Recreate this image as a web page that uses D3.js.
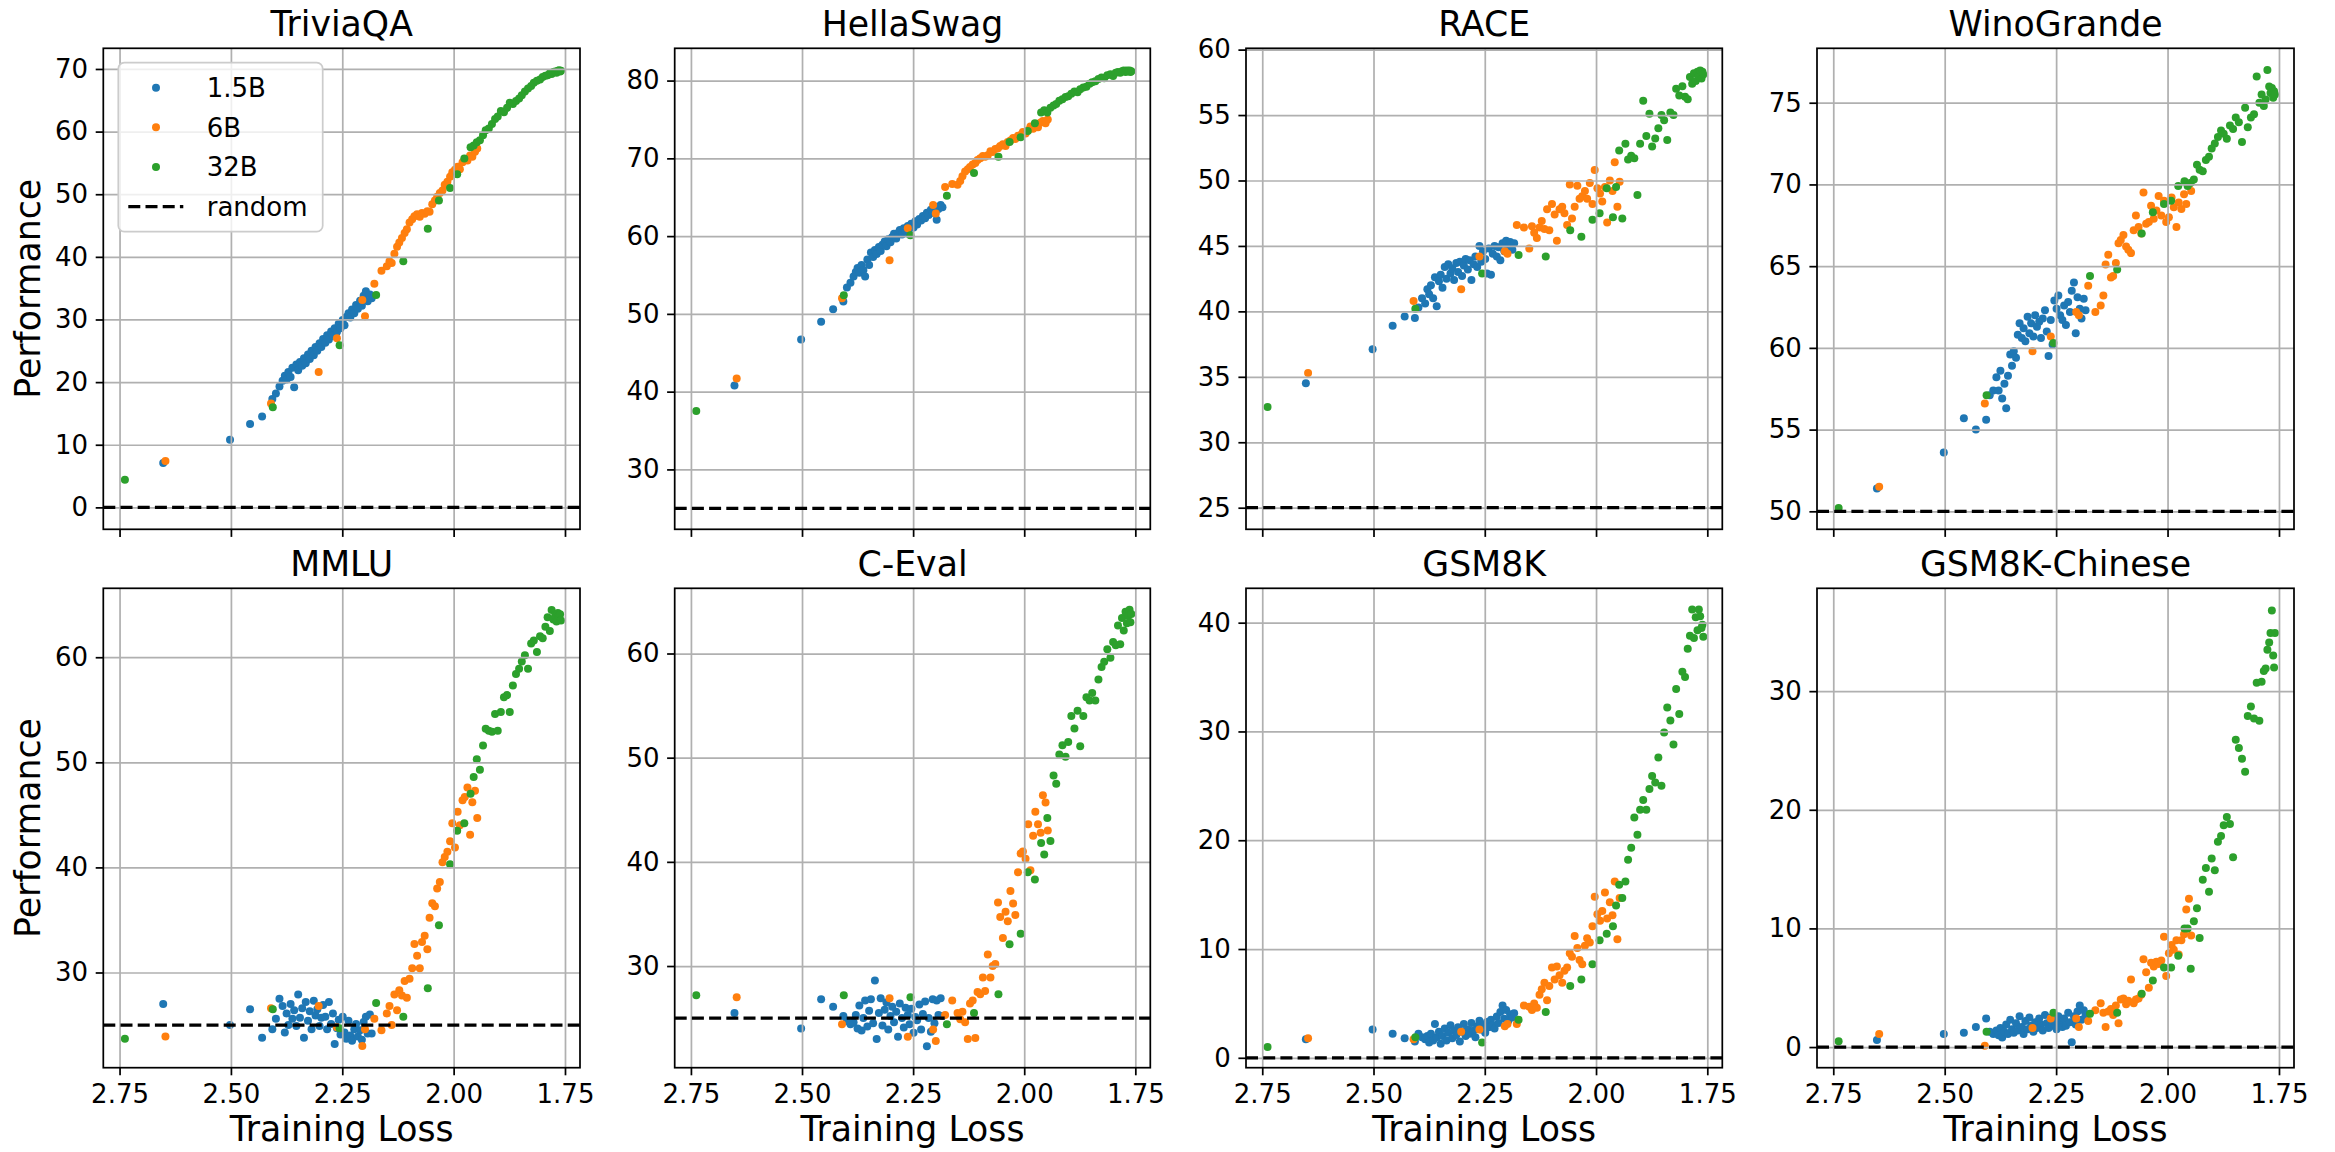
<!DOCTYPE html>
<html>
<head>
<meta charset="utf-8">
<script src="https://cdn.jsdelivr.net/npm/d3@7"></script>
<style>
  body { margin: 0; background: #fff; }
  svg { display: block; }
</style>
</head>
<body>
<svg id="chart"></svg>
<script>
// ---- data ----
const models = ["1.5B", "6B", "32B"];
const benchmarks = ["TriviaQA", "HellaSwag", "RACE", "WinoGrande", "MMLU", "C-Eval", "GSM8K", "GSM8K-Chinese"];
const randomLevels = [0, 25, 25, 50, 25, 25, 0, 0];
const xTicks = [2.75, 2.50, 2.25, 2.00, 1.75];
const yTicks = [
    [0, 10, 20, 30, 40, 50, 60, 70],
    [30, 40, 50, 60, 70, 80],
    [25, 30, 35, 40, 45, 50, 55, 60],
    [50, 55, 60, 65, 70, 75],
    [30, 40, 50, 60],
    [30, 40, 50, 60],
    [0, 10, 20, 30, 40],
    [0, 10, 20, 30]
];
// axis limits
const xDomain = [2.7865, 1.7163];
const yDomains = [[-3.5, 73.3], [22.3, 84.15], [23.35, 60.1], [48.9, 78.33],
                  [20.94, 66.56], [20.24, 66.26], [-0.91, 43.16], [-1.74, 38.67]];

// training loss of each checkpoint (shared by all benchmarks)
const loss15 = [2.652, 2.502, 2.457, 2.430, 2.407, 2.399, 2.391,
    2.384, 2.379, 2.375, 2.371, 2.366, 2.362, 2.358, 2.353, 2.349, 2.345,
    2.340, 2.336, 2.332, 2.327, 2.323, 2.319, 2.314, 2.310, 2.306, 2.301,
    2.297, 2.293, 2.288, 2.284, 2.280, 2.275, 2.271, 2.267, 2.262, 2.258,
    2.254, 2.249, 2.245, 2.241, 2.236, 2.232, 2.228, 2.223, 2.219, 2.215,
    2.210, 2.206, 2.202, 2.197, 2.193, 2.188, 2.184];
const loss6 = [2.647, 2.410, 2.303, 2.262, 2.205, 2.199, 2.178, 2.162,
    2.150, 2.144, 2.139, 2.133, 2.127, 2.122, 2.116, 2.110, 2.105, 2.099,
    2.093, 2.088, 2.082, 2.076, 2.071, 2.065, 2.059, 2.054, 2.048, 2.042,
    2.037, 2.031, 2.025, 2.020, 2.014, 2.008, 2.003, 1.997, 1.991, 1.986,
    1.980, 1.975, 1.969, 1.963, 1.958, 1.952, 1.947];
const loss32 = [2.738, 2.406, 2.256, 2.174, 2.113, 2.058, 2.033, 2.008, 1.992, 1.976,
    1.962, 1.955, 1.948, 1.941, 1.934, 1.928, 1.921, 1.914, 1.907, 1.901,
    1.894, 1.887, 1.880, 1.874, 1.867, 1.860, 1.853, 1.847, 1.840, 1.833,
    1.826, 1.820, 1.813, 1.806, 1.800, 1.794, 1.789, 1.784, 1.780, 1.776,
    1.772, 1.769, 1.766, 1.763, 1.761, 1.759];

// TriviaQA
const triviaqa15 = [7.1, 10.8, 13.3, 14.5, 17.3, 18.2, 19.3,
    20.2, 21.0, 20.4, 21.6, 20.8, 22.3, 19.2, 22.8, 21.9, 23.2,
    22.6, 23.8, 23.0, 24.4, 23.7, 25.0, 24.3, 25.6, 25.0, 26.2,
    25.6, 26.9, 26.3, 27.5, 26.8, 28.1, 27.4, 28.6, 28.0, 29.3,
    28.6, 29.9, 29.1, 30.4, 31.0, 30.3, 31.6, 31.0, 32.3, 31.7,
    33.0, 32.2, 33.8, 34.5, 32.9, 34.0, 33.4];
const triviaqa6 = [7.4, 16.6, 21.6, 27.0, 33.1, 30.5, 35.7, 37.8,
    38.5, 39.3, 39.0, 40.5, 41.6, 42.3, 43.0, 43.8, 44.4, 45.5,
    46.0, 46.5, 46.8, 46.4, 47.0, 46.9, 47.3, 47.2, 48.4, 49.0,
    49.6, 50.2, 50.6, 51.5, 52.0, 52.8, 53.5, 53.9, 54.4, 54.0,
    55.1, 55.6, 55.4, 56.2, 56.0, 56.8, 57.3];
const triviaqa32 = [4.4, 16.0, 25.9, 33.9, 39.3, 44.5, 49.0, 51.0, 53.2, 55.7,
    57.5, 57.8, 58.3, 58.6, 59.4, 60.2, 60.5, 61.2, 62.0, 62.4,
    63.3, 63.1, 63.8, 64.6, 64.4, 64.9, 65.3, 65.8, 66.4, 66.9,
    67.3, 67.8, 68.1, 68.3, 68.7, 68.9, 69.0, 69.3, 69.2, 69.5,
    69.6, 69.4, 69.7, 69.8, 69.6, 69.7];

// HellaSwag
const hellaswag15 = [40.8, 46.7, 49.0, 50.6, 51.6, 53.4, 54.0,
    54.8, 55.4, 55.9, 55.3, 56.3, 55.6, 54.8, 57.0, 56.3, 57.9,
    57.3, 58.2, 57.7, 58.6, 58.1, 58.9, 59.3, 58.7, 59.6, 59.2,
    59.9, 60.3, 59.7, 60.4, 60.8, 60.2, 61.0, 60.6, 61.3, 60.2,
    61.6, 61.1, 61.9, 61.5, 62.2, 62.0, 62.6, 62.3, 63.0, 62.7,
    63.4, 63.0, 63.8, 62.1, 63.5, 64.0, 63.7];
const hellaswag6 = [41.7, 52.0, 56.9, 61.0, 64.0, 62.9, 66.3, 66.7,
    66.6, 67.1, 67.7, 68.3, 68.6, 68.9, 69.2, 69.4, 69.8, 70.0,
    70.3, 70.2, 70.4, 70.9, 70.8, 71.2, 71.3, 71.6, 71.8, 71.6,
    72.1, 72.3, 72.6, 72.5, 72.9, 73.0, 73.4, 73.2, 73.6, 74.1,
    73.8, 74.4, 74.0, 74.6, 74.8, 74.5, 75.0];
const hellaswag32 = [37.5, 52.4, 60.1, 65.2, 68.1, 70.2, 72.1, 72.7, 73.5, 74.5,
    75.9, 76.2, 75.9, 76.5, 76.8, 77.0, 77.4, 77.6, 77.9, 78.0,
    78.3, 78.6, 78.5, 78.9, 79.1, 79.2, 79.6, 79.8, 79.9, 80.2,
    80.4, 80.3, 80.7, 80.8, 80.6, 81.0, 81.1, 81.0, 81.2, 81.3,
    81.1, 81.3, 81.2, 81.3, 81.1, 81.2];

// RACE
const race15 = [34.5, 37.1, 38.9, 39.6, 39.5, 40.3, 41.0,
    40.6, 41.7, 41.3, 42.0, 41.0, 42.6, 40.4, 42.3, 42.8, 41.8,
    43.4, 42.5, 43.6, 42.9, 43.3, 42.4, 43.7, 43.0, 43.8, 42.7,
    43.5, 44.0, 43.2, 43.9, 42.4, 43.6, 44.2, 43.4, 45.0, 43.8,
    44.6, 44.0, 42.9, 44.8, 42.8, 44.4, 45.0, 44.2, 44.9, 43.9,
    45.2, 44.6, 45.4, 44.9, 45.3, 44.7, 45.2];
const race6 = [35.3, 40.8, 41.7, 44.2, 44.6, 44.4, 46.6, 46.4,
    44.8, 46.5, 46.0, 45.6, 46.4, 46.9, 46.3, 47.8, 46.2, 48.2,
    47.4, 45.4, 47.8, 48.0, 47.5, 46.6, 49.7, 47.1, 48.0, 49.6,
    48.6, 48.8, 49.2, 48.6, 49.8, 48.2, 50.8, 49.4, 49.0, 48.4,
    49.5, 46.8, 50.0, 49.2, 51.4, 48.0, 49.9];
const race32 = [32.7, 40.2, 42.9, 44.3, 44.2, 46.2, 45.7, 47.0, 47.5, 49.4,
    47.2, 49.5, 52.3, 47.1, 52.8, 51.6, 51.9, 51.7, 48.9, 52.8,
    56.1, 53.4, 55.1, 52.6, 53.2, 54.0, 55.0, 54.6, 53.1, 55.2,
    55.0, 57.0, 56.5, 57.2, 56.4, 56.2, 57.9, 57.4, 58.2, 57.6,
    58.3, 58.0, 58.4, 57.8, 58.3, 58.1];

// WinoGrande
const winogrande15 = [51.4, 53.6, 55.7, 55.0, 55.6, 57.1, 57.4,
    58.2, 57.4, 58.6, 56.9, 57.8, 56.3, 58.3, 59.6, 58.9, 59.8,
    59.4, 60.8, 61.5, 60.6, 61.2, 60.4, 61.9, 60.9, 61.5, 60.7,
    62.0, 61.3, 61.6, 60.6, 61.8, 62.3, 61.0, 59.5, 61.7, 60.2,
    62.9, 62.4, 63.2, 62.0, 61.7, 62.6, 61.4, 62.8, 62.2, 63.5,
    64.0, 60.9, 63.1, 62.4, 61.8, 63.0, 62.3];
const winogrande6 = [51.5, 56.6, 59.8, 60.7, 62.2, 62.0, 63.8, 62.2,
    62.6, 63.2, 65.1, 65.7, 64.3, 64.4, 65.2, 66.4, 66.6, 66.9,
    66.2, 66.0, 65.8, 67.2, 68.1, 67.4, 67.0, 69.5, 67.6, 67.7,
    68.7, 67.9, 68.4, 69.3, 68.1, 69.0, 67.7, 68.0, 69.2, 68.6,
    67.4, 68.9, 68.5, 69.4, 68.8, 70.0, 69.6];
const winogrande32 = [50.2, 57.1, 60.3, 64.4, 64.8, 67.0, 68.3, 68.8, 69.0, 69.9,
    70.2, 69.9, 70.1, 70.3, 71.2, 70.9, 70.8, 71.5, 71.7, 72.2,
    72.5, 72.9, 73.3, 73.1, 72.8, 73.6, 73.4, 74.1, 73.8, 72.6,
    74.7, 73.5, 74.1, 74.3, 76.6, 75.0, 75.5, 74.8, 75.2, 77.0,
    76.0, 75.6, 75.9, 75.3, 75.7, 75.5];

// MMLU
const mmlu15 = [27.0, 25.0, 26.5, 23.8, 24.6, 25.6, 27.5,
    26.8, 24.3, 26.1, 25.0, 27.0, 25.6, 26.4, 24.9, 27.9, 25.7,
    26.6, 23.8, 27.2, 25.4, 26.3, 24.6, 27.3, 25.9, 26.5, 24.9,
    25.7, 26.9, 25.8, 24.6, 27.2, 25.1, 26.1, 23.2, 24.7, 25.5,
    24.1, 25.8, 24.3, 23.7, 25.4, 24.0, 23.5, 24.6, 25.1, 23.9,
    24.5, 23.6, 25.3, 25.8, 24.2, 26.0, 24.2];
const mmlu6 = [23.9, 26.6, 26.8, 24.8, 23.0, 24.6, 25.6, 24.5,
    26.1, 26.8, 25.0, 27.9, 26.4, 28.3, 27.8, 29.2, 27.6, 29.4,
    30.4, 32.7, 31.6, 30.4, 32.9, 33.5, 32.2, 35.2, 36.6, 36.3,
    38.0, 38.6, 40.5, 41.0, 41.5, 42.5, 44.2, 41.9, 45.3, 44.0,
    46.4, 46.7, 47.6, 43.1, 46.2, 47.3, 44.7];
const mmlu32 = [23.7, 26.5, 24.7, 27.1, 25.8, 28.5, 34.5, 40.3, 43.5, 44.2,
    47.0, 48.6, 50.3, 49.3, 51.6, 53.2, 53.0, 52.9, 54.6, 53.0,
    54.8, 56.2, 56.4, 54.8, 57.3, 58.4, 58.9, 59.6, 60.2, 58.9,
    61.3, 61.6, 60.5, 62.0, 61.8, 62.9, 63.8, 62.5, 64.5, 63.6,
    64.0, 63.4, 64.2, 63.9, 64.1, 63.5];

// C-Eval
const ceval15 = [25.5, 24.0, 26.8, 26.1, 25.2, 24.7, 24.4,
    24.6, 25.3, 24.0, 26.2, 23.8, 25.0, 26.7, 24.2, 25.7, 26.8,
    24.5, 28.6, 23.0, 25.5, 26.9, 24.3, 25.8, 26.5, 23.9, 25.2,
    26.1, 24.6, 25.6, 23.2, 26.4, 25.0, 24.1, 26.0, 25.3, 24.4,
    25.9, 23.6, 25.1, 24.8, 26.3, 23.9, 25.4, 26.6, 22.3, 25.0,
    23.7, 26.8, 24.5, 26.7, 25.3, 26.9, 25.2];
const ceval6 = [27.0, 24.4, 26.9, 23.2, 23.9, 22.8, 25.3, 26.7,
    25.5, 24.9, 25.6, 24.6, 23.0, 26.4, 26.7, 23.1, 27.5, 27.3,
    28.9, 27.6, 31.1, 28.9, 30.0, 30.2, 36.1, 34.7, 32.7, 35.2,
    34.3, 37.2, 36.0, 34.9, 39.0, 40.8, 41.0, 40.3, 43.6, 39.2,
    42.5, 44.8, 43.6, 42.8, 46.4, 45.7, 43.0];
const ceval32 = [27.2, 27.2, 27.0, 24.4, 25.5, 27.3, 32.1, 33.1, 39.0, 38.3,
    41.8, 40.7, 44.2, 42.0, 48.3, 47.5, 50.3, 51.2, 50.1, 51.5,
    54.0, 52.8, 54.5, 51.1, 54.0, 55.8, 55.5, 56.2, 55.5, 57.5,
    58.7, 59.2, 60.4, 59.6, 61.1, 60.8, 62.7, 60.9, 63.4, 62.2,
    64.0, 62.9, 63.6, 64.2, 63.0, 63.8];

// GSM8K
const gsm8k15 = [1.7, 2.6, 2.2, 1.8, 1.5, 2.2, 1.9,
    1.7, 2.0, 1.4, 2.2, 1.6, 3.1, 1.9, 2.4, 1.3, 2.0,
    2.7, 1.6, 2.3, 3.0, 1.8, 2.5, 2.1, 2.8, 1.5, 2.4,
    3.1, 2.0, 2.6, 2.2, 3.2, 2.5, 1.9, 2.9, 3.4, 2.6,
    3.0, 2.3, 3.3, 2.8, 3.5, 3.0, 2.7, 3.8, 3.2, 4.2,
    4.8, 3.6, 4.4, 3.4, 4.0, 3.7, 4.1];
const gsm8k6 = [1.8, 1.7, 2.4, 2.6, 2.9, 3.1, 3.1, 4.8,
    4.7, 4.4, 5.0, 4.6, 5.8, 6.3, 6.9, 5.3, 6.6, 8.3,
    7.2, 8.4, 7.6, 6.9, 8.0, 8.3, 9.6, 9.3, 11.2, 10.1,
    9.0, 8.6, 10.3, 11.0, 10.6, 12.1, 14.8, 13.2, 12.6, 13.5,
    15.2, 12.8, 14.3, 13.1, 16.2, 10.9, 14.7];
const gsm8k32 = [1.0, 1.9, 1.4, 3.5, 4.2, 6.6, 7.2, 8.6, 10.8, 11.4,
    12.1, 14.0, 15.9, 14.7, 16.2, 18.2, 19.3, 22.1, 20.5, 22.8,
    23.7, 22.8, 24.7, 25.9, 25.3, 27.6, 25.0, 29.9, 32.2, 31.0,
    28.8, 33.9, 31.6, 35.5, 35.0, 37.6, 38.8, 41.2, 38.6, 40.5,
    39.3, 41.2, 40.6, 39.5, 39.8, 38.7];

// GSM8K-Chinese
const gsm8kzh15 = [0.6, 1.1, 1.2, 1.7, 2.4, 1.3, 1.1,
    1.4, 1.0, 1.6, 0.8, 1.3, 1.9, 1.1, 2.3, 1.5, 1.2,
    2.0, 1.4, 2.6, 1.7, 1.1, 2.2, 1.5, 2.5, 1.8, 1.3,
    2.1, 1.6, 2.4, 1.9, 1.4, 2.7, 2.0, 1.6, 2.5, 1.8,
    2.2, 1.5, 2.6, 2.0, 1.7, 2.4, 1.8, 2.9, 2.1, 0.4,
    2.6, 1.9, 3.0, 3.5, 2.3, 3.1, 2.7];
const gsm8kzh6 = [1.1, 0.1, 1.6, 2.4, 2.4, 1.7, 2.2, 3.1,
    3.7, 2.9, 1.7, 3.0, 3.2, 2.7, 3.5, 2.0, 4.0, 4.1,
    3.6, 3.9, 5.7, 3.7, 4.0, 4.1, 4.4, 7.4, 6.3, 5.0,
    7.1, 6.8, 7.2, 7.0, 7.3, 9.3, 6.0, 7.9, 8.6, 8.2,
    9.0, 7.8, 9.0, 9.5, 11.6, 12.5, 9.4];
const gsm8kzh32 = [0.5, 1.3, 2.9, 2.8, 2.9, 4.5, 5.6, 6.7, 6.7, 7.7,
    10.0, 10.0, 6.6, 10.6, 11.7, 9.2, 14.1, 15.1, 13.1, 15.9,
    14.9, 17.3, 17.8, 18.7, 19.4, 18.8, 16.0, 25.9, 25.2, 24.3,
    23.2, 27.9, 28.7, 27.7, 30.7, 27.5, 30.8, 31.7, 31.9, 33.5,
    34.1, 34.9, 36.8, 33.0, 32.0, 34.9];

// ---- build panel table from the arrays ----
const losses = [loss15, loss6, loss32];
const perfs = [
    [triviaqa15, triviaqa6, triviaqa32],
    [hellaswag15, hellaswag6, hellaswag32],
    [race15, race6, race32],
    [winogrande15, winogrande6, winogrande32],
    [mmlu15, mmlu6, mmlu32],
    [ceval15, ceval6, ceval32],
    [gsm8k15, gsm8k6, gsm8k32],
    [gsm8kzh15, gsm8kzh6, gsm8kzh32]
];

// ---- layout / style ----
const W = 2335, H = 1152;
const colors = ["#1f77b4", "#ff7f0e", "#2ca02c"];
const font = "'DejaVu Sans', sans-serif";
const colLeft  = [103.3, 674.7, 1246, 1817];
const colRight = [580, 1150.3, 1722.3, 2294];
const rowTop    = [48.3, 588.3];
const rowBottom = [529.3, 1067.7];
const tickFont = 26, labelFont = 34.7;
const lw = 1.73;           // 0.8pt at this resolution
const tickLen = 7.6;
const dotR = 4;
const dash = "12,5.2";

const svg = d3.select("#chart")
    .attr("width", W)
    .attr("height", H)
    .style("font-family", font);
svg.append("rect").attr("width", W).attr("height", H).attr("fill", "#fff");

benchmarks.forEach((name, i) => {
    let col = i % 4, row = Math.floor(i / 4);
    let L = colLeft[col], R = colRight[col], T = rowTop[row], B = rowBottom[row];
    let x = d3.scaleLinear().domain(xDomain).range([L, R]);
    let y = d3.scaleLinear().domain(yDomains[i]).range([B, T]);
    let g = svg.append("g").attr("class", "panel");

    // scatter, one series per model size
    models.forEach((m, k) => {
        let pts = d3.zip(losses[k], perfs[i][k]);
        g.append("g")
            .selectAll("circle")
            .data(pts)
            .join("circle")
                .attr("cx", d => x(d[0]))
                .attr("cy", d => y(d[1]))
                .attr("r", dotR)
                .attr("fill", colors[k]);
    });

    // grid sits above the scatter, like matplotlib's default zorder
    let gx = g.append("g")
        .attr("transform", `translate(0,${B})`)
        .call(d3.axisBottom(x).tickValues(xTicks).tickSize(-(B - T)).tickFormat(""));
    let gy = g.append("g")
        .attr("transform", `translate(${L},0)`)
        .call(d3.axisLeft(y).tickValues(yTicks[i]).tickSize(-(R - L)).tickFormat(""));
    [gx, gy].forEach(a => {
        a.select(".domain").remove();
        a.selectAll("line").attr("stroke", "#b0b0b0").attr("stroke-width", lw);
    });

    // random baseline
    g.append("line")
        .attr("x1", L).attr("x2", R)
        .attr("y1", y(randomLevels[i])).attr("y2", y(randomLevels[i]))
        .attr("stroke", "#000")
        .attr("stroke-width", 3.25)
        .attr("stroke-dasharray", dash);

    // frame
    g.append("rect")
        .attr("x", L).attr("y", T)
        .attr("width", R - L).attr("height", B - T)
        .attr("fill", "none")
        .attr("stroke", "#000")
        .attr("stroke-width", lw);

    // ticks + labels
    let ax = g.append("g")
        .attr("transform", `translate(0,${B})`)
        .call(d3.axisBottom(x).tickValues(xTicks).tickSize(tickLen).tickPadding(9)
            .tickFormat(row === 1 ? d3.format(".2f") : ""));
    let ay = g.append("g")
        .attr("transform", `translate(${L},0)`)
        .call(d3.axisLeft(y).tickValues(yTicks[i]).tickSize(tickLen).tickPadding(7.6));
    [ax, ay].forEach(a => {
        a.select(".domain").remove();
        a.selectAll("line").attr("stroke", "#000").attr("stroke-width", lw);
        a.selectAll("text")
            .attr("fill", "#000")
            .style("font-family", font)
            .style("font-size", tickFont + "px");
    });

    // title
    g.append("text")
        .attr("x", (L + R) / 2)
        .attr("y", T - 12.5)
        .attr("text-anchor", "middle")
        .style("font-size", labelFont + "px")
        .text(name);

    if (col === 0) {
        g.append("text")
            .attr("transform", `translate(40,${(T + B) / 2}) rotate(-90)`)
            .attr("text-anchor", "middle")
            .style("font-size", labelFont + "px")
            .text("Performance");
    }
    if (row === 1) {
        g.append("text")
            .attr("x", (L + R) / 2)
            .attr("y", 1141)
            .attr("text-anchor", "middle")
            .style("font-size", labelFont + "px")
            .text("Training Loss");
    }

    // legend only in the first panel
    if (i === 0) {
        let lg = g.append("g").attr("transform", `translate(${L + 15},${T + 14.4})`);
        lg.append("rect")
            .attr("width", 204.4).attr("height", 169)
            .attr("rx", 6)
            .attr("fill", "#fff").attr("fill-opacity", 0.8)
            .attr("stroke", "#cccccc").attr("stroke-width", lw);
        let items = models.concat(["random"]);
        let rowY = k => 25 + k * 39.6;
        let it = lg.selectAll(".item")
            .data(items)
            .join("g")
                .attr("class", "item")
                .attr("transform", (d, k) => `translate(0,${rowY(k)})`);
        it.filter((d, k) => k < 3)
            .append("circle")
                .attr("cx", 37.7)
                .attr("r", dotR)
                .attr("fill", (d, k) => colors[k]);
        it.filter(d => d === "random")
            .append("line")
                .attr("x1", 10).attr("x2", 65)
                .attr("stroke", "#000")
                .attr("stroke-width", 3.25)
                .attr("stroke-dasharray", dash);
        it.append("text")
            .attr("x", 88.4)
            .attr("dy", "0.36em")
            .style("font-size", tickFont + "px")
            .text(d => d);
    }
});
</script>
</body>
</html>
